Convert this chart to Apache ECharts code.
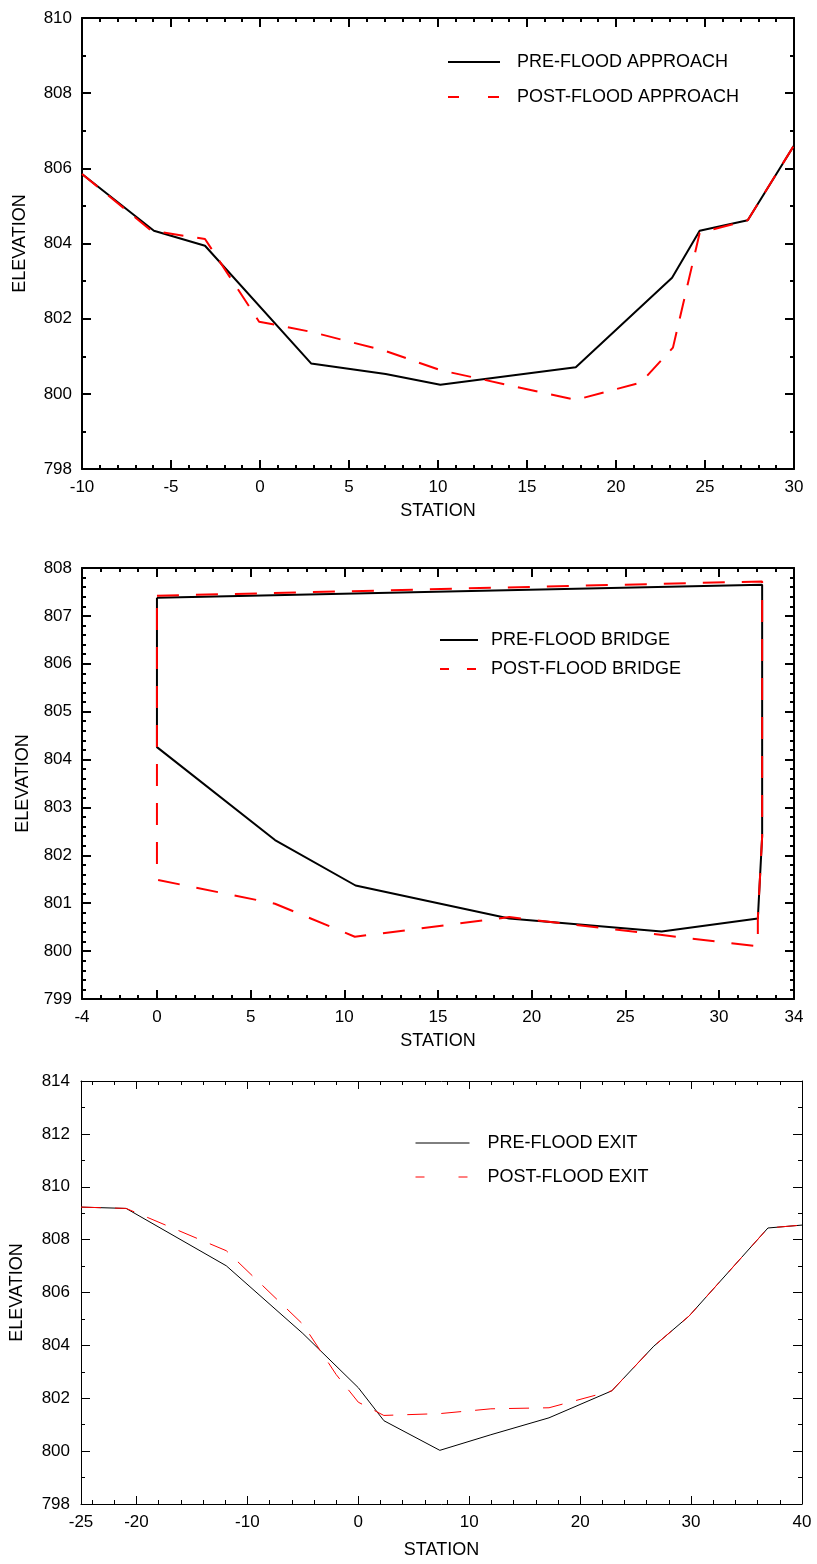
<!DOCTYPE html>
<html>
<head>
<meta charset="utf-8">
<script src="https://cdn.jsdelivr.net/npm/echarts@6/dist/echarts.min.js"></script>
<style>
  html, body { margin: 0; padding: 0; background: #fff; }
  #chart { width: 817px; height: 1564px; }
</style>
</head>
<body>
<div id="chart"></div>
<script>
/* ---- approach section ---- */
const approachPreStation = [-10, -5.96, -3.09, 2.87, 7.06, 10.13, 17.74, 23.15, 24.7, 27.4, 30];
const approachPreElev = [805.85, 804.34, 803.94, 800.81, 800.53, 800.24, 800.71, 803.09, 804.34, 804.62, 806.61];
const approachPostStation = [-10, -6.1, -3.09, -0.05, 2.87, 7.06, 10.13, 17.74, 21.4, 23.2, 24.7, 27.4, 30];
const approachPostElev = [805.85, 804.34, 804.12, 801.92, 801.65, 801.14, 800.63, 799.84, 800.30, 801.23, 804.28, 804.62, 806.61];

/* ---- bridge section ---- */
const bridgePreStation = [0, 32.3, 32.3, 32.07, 26.94, 18.8, 10.6, 6.3, 0, 0];
const bridgePreElev = [807.38, 807.65, 802.4, 800.68, 800.41, 800.68, 801.37, 802.32, 804.26, 807.38];
const bridgePostStation = [0, 32.3, 32.3, 32.07, 32.07, 26.86, 18.8, 10.56, 6.3, 0, 0];
const bridgePostElev = [807.42, 807.72, 802.4, 800.68, 800.10, 800.34, 800.71, 800.30, 800.99, 801.49, 807.42];

/* ---- exit section ---- */
const exitPreStation = [-25, -20.93, -11.9, -5, 0, 2.31, 7.35, 11.95, 17.19, 22.85, 26.64, 29.82, 36.93, 40];
const exitPreElev = [809.23, 809.18, 807.01, 804.45, 802.4, 801.15, 800.03, 800.62, 801.26, 802.28, 803.97, 805.11, 808.44, 808.55];
const exitPostStation = [-25, -20.93, -11.9, -5, -2, 0, 2.3, 7.37, 11.95, 17.19, 22.85, 26.64, 29.82, 36.93, 40];
const exitPostElev = [809.23, 809.18, 807.58, 804.8, 802.9, 801.85, 801.35, 801.42, 801.6, 801.64, 802.28, 803.97, 805.11, 808.44, 808.55];

/* ---- tick labels ---- */
const approachXLabels = [-10, -5, 0, 5, 10, 15, 20, 25, 30];
const approachYLabels = [798, 800, 802, 804, 806, 808, 810];
const bridgeXLabels = [-4, 0, 5, 10, 15, 20, 25, 30, 34];
const bridgeXMajor = [0, 5, 10, 15, 20, 25, 30];
const bridgeYLabels = [799, 800, 801, 802, 803, 804, 805, 806, 807, 808];
const exitXLabels = [-25, -20, -10, 0, 10, 20, 30, 40];
const exitXMajor = [-20, -10, 0, 10, 20, 30, 40];
const exitYLabels = [798, 800, 802, 804, 806, 808, 810, 812, 814];

const FONT = '"Liberation Sans", Arial, sans-serif';

function range(a, b, step) {
  let out = [];
  for (let v = a; v <= b + 1e-9; v += step) out.push(+v.toFixed(4));
  return out;
}

function zip(xs, ys) {
  return xs.map((x, i) => [x, ys[i]]);
}

/* four axes per side group: main (labels + minor ticks), major overlay, mirrored minor, mirrored major */
function makeAxes(dim, g, cfg) {
  let sides = dim === 'x' ? ['bottom', 'top'] : ['left', 'right'];
  let base = {
    type: 'value',
    gridIndex: g,
    min: cfg.min,
    max: cfg.max,
    splitLine: { show: false },
    axisLine: { show: false, onZero: false },
    axisLabel: { show: false }
  };
  let line = { show: true, onZero: false, lineStyle: { color: '#000', width: cfg.lw } };
  let tick = (vals, len) => ({
    show: true, inside: true, length: len, customValues: vals,
    lineStyle: { color: '#000', width: cfg.lw }
  });
  return [
    Object.assign({}, base, {
      position: sides[0],
      axisLine: line,
      axisTick: tick(cfg.minor, cfg.minorLen),
      axisLabel: {
        show: true, customValues: cfg.labels, margin: cfg.margin,
        color: '#000', fontSize: 17, fontFamily: FONT
      },
      name: cfg.name,
      nameLocation: 'middle',
      nameGap: cfg.nameGap,
      nameTextStyle: { color: '#000', fontSize: 18, fontFamily: FONT }
    }),
    Object.assign({}, base, { position: sides[0], axisTick: tick(cfg.major, cfg.majorLen) }),
    Object.assign({}, base, { position: sides[1], axisLine: line, axisTick: tick(cfg.minor, cfg.minorLen) }),
    Object.assign({}, base, { position: sides[1], axisTick: tick(cfg.major, cfg.majorLen) })
  ];
}

function lineSeries(name, g, data, color, width, dash) {
  return {
    type: 'line',
    name: name,
    xAxisIndex: g * 4,
    yAxisIndex: g * 4,
    data: data,
    symbol: 'none',
    showSymbol: false,
    silent: true,
    lineStyle: { color: color, width: width, type: dash || 'solid', cap: 'butt' },
    itemStyle: { color: color }
  };
}

// marker dot hidden (opacity 0), only the line sample stays
function legendBox(left, top, gap, width, pad, names, dash, lw) {
  return {
    orient: 'vertical',
    left: left,
    top: top,
    padding: 0,
    itemGap: gap,
    itemWidth: width,
    itemHeight: 1,
    selectedMode: false,
    textStyle: { color: '#000', fontSize: 18, lineHeight: 20, fontFamily: FONT, padding: [0, 0, 0, pad] },
    data: [
      { name: names[0], itemStyle: { opacity: 0 }, lineStyle: { width: lw, opacity: 1 } },
      { name: names[1], itemStyle: { opacity: 0 }, lineStyle: { width: lw, type: dash, opacity: 1 } }
    ]
  };
}

const chart = echarts.init(document.getElementById('chart'));

let xAxes = [].concat(
  makeAxes('x', 0, { min: -10, max: 30, labels: approachXLabels, major: approachXLabels, minor: range(-10, 30, 1),
    lw: 2, majorLen: 9, minorLen: 4, margin: 10, name: 'STATION', nameGap: 33 }),
  makeAxes('x', 1, { min: -4, max: 34, labels: bridgeXLabels, major: bridgeXMajor, minor: range(-4, 34, 1),
    lw: 2, majorLen: 9, minorLen: 4, margin: 10, name: 'STATION', nameGap: 33 }),
  makeAxes('x', 2, { min: -25, max: 40, labels: exitXLabels, major: exitXMajor, minor: range(-24, 40, 2),
    lw: 1, majorLen: 8, minorLen: 4, margin: 10, name: 'STATION', nameGap: 37 })
);

let yAxes = [].concat(
  makeAxes('y', 0, { min: 798, max: 810, labels: approachYLabels, major: approachYLabels, minor: range(798, 810, 1),
    lw: 2, majorLen: 9, minorLen: 4, margin: 10, name: 'ELEVATION', nameGap: 53 }),
  makeAxes('y', 1, { min: 799, max: 808, labels: bridgeYLabels, major: bridgeYLabels, minor: range(799, 808, 0.2),
    lw: 2, majorLen: 9, minorLen: 4, margin: 10, name: 'ELEVATION', nameGap: 50 }),
  makeAxes('y', 2, { min: 798, max: 814, labels: exitYLabels, major: exitYLabels, minor: range(798, 814, 1),
    lw: 1, majorLen: 9, minorLen: 4, margin: 11, name: 'ELEVATION', nameGap: 55 })
);

chart.setOption({
  animation: false,
  backgroundColor: '#fff',
  grid: [
    { left: 82, top: 18, width: 712, height: 451 },
    { left: 82, top: 568, width: 712, height: 431 },
    { left: 78, top: 1081, width: 724, height: 423 }
  ],
  legend: [
    legendBox(447, 52, 15, 52, 12, ['PRE-FLOOD APPROACH', 'POST-FLOOD APPROACH'], [11, 29], 2),
    legendBox(439, 630, 9, 38, 8, ['PRE-FLOOD BRIDGE', 'POST-FLOOD BRIDGE'], [9, 18], 2),
    legendBox(415, 1133, 14, 54, 13, ['PRE-FLOOD EXIT', 'POST-FLOOD EXIT'], [9, 34], 1)
  ],
  xAxis: xAxes,
  yAxis: yAxes,
  series: [
    lineSeries('PRE-FLOOD APPROACH', 0, zip(approachPreStation, approachPreElev), '#000', 2),
    lineSeries('POST-FLOOD APPROACH', 0, zip(approachPostStation, approachPostElev), '#ff0000', 2, [20, 14]),
    lineSeries('PRE-FLOOD BRIDGE', 1, zip(bridgePreStation, bridgePreElev), '#000', 2),
    lineSeries('POST-FLOOD BRIDGE', 1, zip(bridgePostStation, bridgePostElev), '#ff0000', 2, [22, 17]),
    lineSeries('PRE-FLOOD EXIT', 2, zip(exitPreStation, exitPreElev), '#000', 1),
    lineSeries('POST-FLOOD EXIT', 2, zip(exitPostStation, exitPostElev), '#ff0000', 1, [20, 14])
  ]
});
</script>
</body>
</html>
